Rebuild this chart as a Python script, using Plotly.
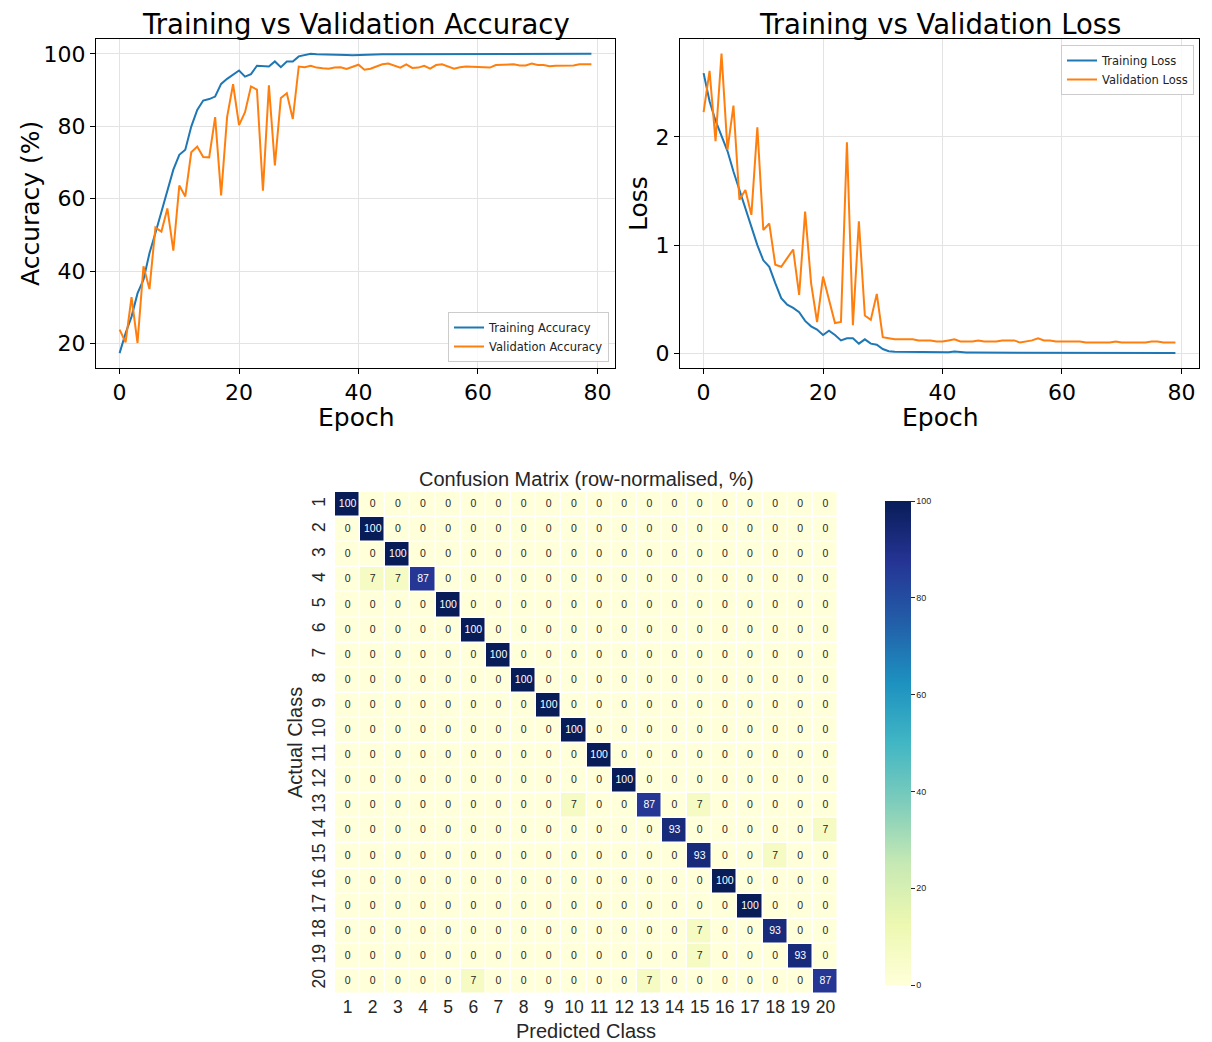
import plotly.graph_objects as go

# ---------------- data ----------------
epochs = list(range(80))

train_acc = [17.3, 22.8, 27.4, 33.8, 37.6, 44.9, 50.5, 56.4, 62.4, 68.0,
             72.1, 73.5, 79.9, 84.5, 87.1, 87.5, 88.2, 91.7, 93.1, 94.2,
             95.4, 93.7, 94.4, 96.7, 96.5, 96.5, 97.9, 96.3, 97.9, 97.9,
             99.3, 99.7, 100.0, 99.9, 99.9, 99.8, 99.9, 99.9, 99.7, 99.6,
             99.7, 99.6, 99.7, 99.9, 99.9, 99.9, 99.9, 99.9, 99.9, 99.9,
             99.9, 99.9, 99.9, 99.9, 99.9, 99.9, 99.9, 99.9, 99.9, 99.9,
             99.9, 99.9, 99.9, 99.9, 99.9, 99.9, 100.0, 100.0, 100.0, 100.0,
             100.0, 100.0, 100.0, 100.0, 100.0, 100.0, 100.0, 100.0, 100.0, 100.0]

val_acc = [23.8, 20.3, 32.8, 20.1, 41.3, 35.0, 52.0, 50.9, 57.3, 45.6,
           63.6, 60.6, 72.8, 74.4, 71.5, 71.4, 82.5, 60.9, 82.5, 91.6,
           80.3, 83.9, 91.0, 90.1, 62.2, 91.3, 69.2, 87.8, 89.1, 82.0,
           96.5, 96.3, 96.7, 96.2, 96.0, 95.9, 96.2, 96.3, 95.8, 96.5,
           97.0, 95.6, 95.9, 96.5, 97.1, 97.3, 96.7, 96.2, 97.1, 96.1,
           96.2, 96.7, 95.9, 96.9, 97.1, 96.5, 95.9, 96.3, 96.5, 96.4,
           96.3, 96.3, 96.2, 96.9, 96.9, 96.9, 97.1, 96.8, 96.8, 97.3,
           96.9, 96.9, 96.6, 96.7, 96.7, 96.7, 96.8, 97.1, 97.1, 97.1]

train_loss = [2.59, 2.33, 2.15, 2.01, 1.87, 1.68, 1.51, 1.34, 1.17, 1.00,
              0.86, 0.80, 0.65, 0.51, 0.45, 0.42, 0.38, 0.30, 0.25, 0.22,
              0.17, 0.21, 0.17, 0.12, 0.14, 0.14, 0.09, 0.13, 0.09, 0.08,
              0.04, 0.02, 0.015, 0.014, 0.013, 0.012, 0.012, 0.011, 0.010, 0.010,
              0.009, 0.011, 0.018, 0.010, 0.008, 0.008, 0.008, 0.008, 0.007, 0.007,
              0.007, 0.007, 0.006, 0.006, 0.006, 0.006, 0.006, 0.005, 0.005, 0.005,
              0.005, 0.005, 0.005, 0.004, 0.004, 0.004, 0.004, 0.004, 0.004, 0.004,
              0.004, 0.003, 0.003, 0.003, 0.003, 0.003, 0.003, 0.003, 0.003, 0.003]

val_loss = [2.23, 2.61, 1.96, 2.77, 1.88, 2.29, 1.42, 1.51, 1.28, 2.09,
            1.14, 1.20, 0.82, 0.80, 0.88, 0.96, 0.54, 1.31, 0.65, 0.29,
            0.71, 0.49, 0.28, 0.29, 1.95, 0.26, 1.22, 0.35, 0.31, 0.55,
            0.15, 0.14, 0.13, 0.13, 0.13, 0.13, 0.12, 0.12, 0.12, 0.11,
            0.11, 0.12, 0.13, 0.11, 0.11, 0.11, 0.12, 0.11, 0.11, 0.11,
            0.12, 0.12, 0.12, 0.10, 0.11, 0.12, 0.14, 0.12, 0.12, 0.11,
            0.11, 0.11, 0.11, 0.11, 0.10, 0.10, 0.10, 0.10, 0.10, 0.11,
            0.10, 0.10, 0.10, 0.10, 0.10, 0.11, 0.11, 0.10, 0.10, 0.10]

classes = list(range(1, 21))
cm = [
    [100, 0, 0, 0, 0, 0, 0, 0, 0, 0, 0, 0, 0, 0, 0, 0, 0, 0, 0, 0],
    [0, 100, 0, 0, 0, 0, 0, 0, 0, 0, 0, 0, 0, 0, 0, 0, 0, 0, 0, 0],
    [0, 0, 100, 0, 0, 0, 0, 0, 0, 0, 0, 0, 0, 0, 0, 0, 0, 0, 0, 0],
    [0, 7, 7, 87, 0, 0, 0, 0, 0, 0, 0, 0, 0, 0, 0, 0, 0, 0, 0, 0],
    [0, 0, 0, 0, 100, 0, 0, 0, 0, 0, 0, 0, 0, 0, 0, 0, 0, 0, 0, 0],
    [0, 0, 0, 0, 0, 100, 0, 0, 0, 0, 0, 0, 0, 0, 0, 0, 0, 0, 0, 0],
    [0, 0, 0, 0, 0, 0, 100, 0, 0, 0, 0, 0, 0, 0, 0, 0, 0, 0, 0, 0],
    [0, 0, 0, 0, 0, 0, 0, 100, 0, 0, 0, 0, 0, 0, 0, 0, 0, 0, 0, 0],
    [0, 0, 0, 0, 0, 0, 0, 0, 100, 0, 0, 0, 0, 0, 0, 0, 0, 0, 0, 0],
    [0, 0, 0, 0, 0, 0, 0, 0, 0, 100, 0, 0, 0, 0, 0, 0, 0, 0, 0, 0],
    [0, 0, 0, 0, 0, 0, 0, 0, 0, 0, 100, 0, 0, 0, 0, 0, 0, 0, 0, 0],
    [0, 0, 0, 0, 0, 0, 0, 0, 0, 0, 0, 100, 0, 0, 0, 0, 0, 0, 0, 0],
    [0, 0, 0, 0, 0, 0, 0, 0, 0, 7, 0, 0, 87, 0, 7, 0, 0, 0, 0, 0],
    [0, 0, 0, 0, 0, 0, 0, 0, 0, 0, 0, 0, 0, 93, 0, 0, 0, 0, 0, 7],
    [0, 0, 0, 0, 0, 0, 0, 0, 0, 0, 0, 0, 0, 0, 93, 0, 0, 7, 0, 0],
    [0, 0, 0, 0, 0, 0, 0, 0, 0, 0, 0, 0, 0, 0, 0, 100, 0, 0, 0, 0],
    [0, 0, 0, 0, 0, 0, 0, 0, 0, 0, 0, 0, 0, 0, 0, 0, 100, 0, 0, 0],
    [0, 0, 0, 0, 0, 0, 0, 0, 0, 0, 0, 0, 0, 0, 7, 0, 0, 93, 0, 0],
    [0, 0, 0, 0, 0, 0, 0, 0, 0, 0, 0, 0, 0, 0, 7, 0, 0, 0, 93, 0],
    [0, 0, 0, 0, 0, 7, 0, 0, 0, 0, 0, 0, 7, 0, 0, 0, 0, 0, 0, 87],
]
cbar_ticks = [0, 20, 40, 60, 80, 100]

# ---------------- styling ----------------
OFF = 8  # page body margin
W, H = 1212 - OFF, 1042 - OFF
BLUE, ORANGE = "#1f77b4", "#ff7f0e"
MPL_FONT = "DejaVu Sans"
SNS_FONT = "Liberation Sans, Arial"
DARK = "#262626"
ylgnbu = [[0.0, "#ffffd9"], [0.125, "#edf8b1"], [0.25, "#c7e9b4"], [0.375, "#7fcdbb"],
          [0.5, "#41b6c4"], [0.625, "#1d91c0"], [0.75, "#225ea8"], [0.875, "#253494"],
          [1.0, "#081d58"]]


def px_x(p):
    return (p - OFF) / W


def px_y(p):
    return 1 - (p - OFF) / H


fig = go.Figure()

fig.add_trace(go.Scatter(x=epochs, y=train_acc, mode="lines", name="Training Accuracy",
                         line=dict(color=BLUE, width=2), xaxis="x", yaxis="y", legend="legend"))
fig.add_trace(go.Scatter(x=epochs, y=val_acc, mode="lines", name="Validation Accuracy",
                         line=dict(color=ORANGE, width=2), xaxis="x", yaxis="y", legend="legend"))
fig.add_trace(go.Scatter(x=epochs, y=train_loss, mode="lines", name="Training Loss",
                         line=dict(color=BLUE, width=2), xaxis="x2", yaxis="y2", legend="legend2"))
fig.add_trace(go.Scatter(x=epochs, y=val_loss, mode="lines", name="Validation Loss",
                         line=dict(color=ORANGE, width=2), xaxis="x2", yaxis="y2", legend="legend2"))

fig.add_trace(go.Heatmap(
    z=cm, x=classes, y=classes, zmin=0, zmax=100, colorscale=ylgnbu,
    xgap=1.5, ygap=1.5, xaxis="x3", yaxis="y3", hoverinfo="skip",
    colorbar=dict(x=px_x(875), xanchor="left", xref="paper",
                  y=px_y(743), yanchor="middle", yref="paper",
                  len=(995 - 491) / H, lenmode="fraction",
                  thickness=26, thicknessmode="pixels", outlinewidth=0,
                  tickvals=cbar_ticks, ticks="outside", ticklen=4, tickcolor=DARK,
                  tickfont=dict(family=SNS_FONT, size=9, color=DARK)),
))

# cell labels: white on dark cells, dark on light cells
lx, ly, lt, dx, dy, dt = [], [], [], [], [], []
for i, row in enumerate(cm):
    for j, v in enumerate(row):
        if v > 50:
            dx.append(classes[j]); dy.append(classes[i]); dt.append(str(v))
        else:
            lx.append(classes[j]); ly.append(classes[i]); lt.append(str(v))
fig.add_trace(go.Scatter(x=lx, y=ly, text=lt, mode="text", xaxis="x3", yaxis="y3",
                         textfont=dict(family=SNS_FONT, size=10.5, color=DARK),
                         showlegend=False, hoverinfo="skip"))
fig.add_trace(go.Scatter(x=dx, y=dy, text=dt, mode="text", xaxis="x3", yaxis="y3",
                         textfont=dict(family=SNS_FONT, size=10.5, color="white"),
                         showlegend=False, hoverinfo="skip"))

line_axis = dict(showline=True, linecolor="black", linewidth=1, mirror=True,
                 ticks="outside", ticklen=5, tickcolor="black", tickwidth=1,
                 showgrid=True, gridcolor="#e3e3e3", gridwidth=1, zeroline=False,
                 tickfont=dict(family=MPL_FONT, size=22, color="black"))

fig.update_layout(
    width=W, height=H, margin=dict(l=0, r=0, t=0, b=0),
    paper_bgcolor="white", plot_bgcolor="white",
    xaxis=dict(domain=[px_x(96), px_x(615)], anchor="y", range=[-3.95, 82.95],
               tickvals=[0, 20, 40, 60, 80], **line_axis),
    yaxis=dict(domain=[px_y(368), px_y(39)], anchor="x", range=[13.2, 104.1],
               tickvals=[20, 40, 60, 80, 100], **line_axis),
    xaxis2=dict(domain=[px_x(680), px_x(1199)], anchor="y2", range=[-3.95, 82.95],
                tickvals=[0, 20, 40, 60, 80], **line_axis),
    yaxis2=dict(domain=[px_y(368), px_y(39)], anchor="x2", range=[-0.135, 2.905],
                tickvals=[0, 1, 2], **line_axis),
    xaxis3=dict(domain=[px_x(335), px_x(838)], anchor="y3", range=[0.5, 20.5],
                tickvals=classes, showgrid=False, zeroline=False, showline=False, ticks="",
                tickfont=dict(family=SNS_FONT, size=17.5, color=DARK)),
    yaxis3=dict(domain=[px_y(994), px_y(492)], anchor="x3", range=[20.5, 0.5],
                tickvals=classes, showgrid=False, zeroline=False, showline=False, ticks="",
                tickangle=-90, ticklabelstandoff=6,
                tickfont=dict(family=SNS_FONT, size=17.5, color=DARK)),
    legend=dict(x=px_x(609), y=px_y(362), xanchor="right", yanchor="bottom",
                bgcolor="rgba(255,255,255,0.8)", bordercolor="#cccccc", borderwidth=1,
                font=dict(family=MPL_FONT, size=11.5, color="#222"),
                tracegroupgap=0, itemwidth=30),
    legend2=dict(x=px_x(1194), y=px_y(45), xanchor="right", yanchor="top",
                 bgcolor="rgba(255,255,255,0.8)", bordercolor="#cccccc", borderwidth=1,
                 font=dict(family=MPL_FONT, size=11.5, color="#222"),
                 tracegroupgap=0, itemwidth=30),
)

annots = [
    dict(text="Training vs Validation Accuracy", x=px_x(356), y=px_y(24),
         font=dict(family=MPL_FONT, size=27.5, color="black")),
    dict(text="Training vs Validation Loss", x=px_x(940), y=px_y(24),
         font=dict(family=MPL_FONT, size=27.5, color="black")),
    dict(text="Epoch", x=px_x(356), y=px_y(417),
         font=dict(family=MPL_FONT, size=25, color="black")),
    dict(text="Epoch", x=px_x(940), y=px_y(417),
         font=dict(family=MPL_FONT, size=25, color="black")),
    dict(text="Accuracy (%)", x=px_x(30), y=px_y(204), textangle=-90,
         font=dict(family=MPL_FONT, size=25, color="black")),
    dict(text="Loss", x=px_x(638), y=px_y(204), textangle=-90,
         font=dict(family=MPL_FONT, size=25, color="black")),
    dict(text="Confusion Matrix (row-normalised, %)", x=px_x(586), y=px_y(479),
         font=dict(family=SNS_FONT, size=20, color=DARK)),
    dict(text="Predicted Class", x=px_x(586), y=px_y(1031),
         font=dict(family=SNS_FONT, size=20, color=DARK)),
    dict(text="Actual Class", x=px_x(295), y=px_y(743), textangle=-90,
         font=dict(family=SNS_FONT, size=20, color=DARK)),
]
for a in annots:
    a.update(xref="paper", yref="paper", showarrow=False, xanchor="center",
             yanchor="middle", borderpad=0)
    fig.add_annotation(**a)

fig.write_html("out.html")
